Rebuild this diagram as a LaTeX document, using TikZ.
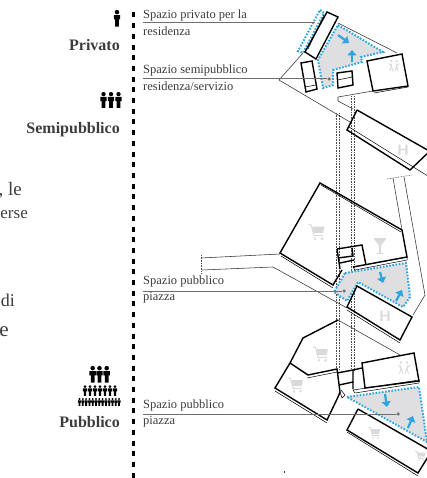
\documentclass[tikz,border=0pt]{standalone}
\usepackage{fontspec}
\setmainfont{Liberation Serif}
\usetikzlibrary{arrows.meta}
\definecolor{zoneblue}{HTML}{2BA6DE}
\definecolor{zonefill}{HTML}{DFDFE2}
\definecolor{icongrey}{HTML}{DADADA}
\definecolor{txt}{HTML}{3C3C3C}
\definecolor{leader}{HTML}{6E6E6E}
\tikzset{
  lbl/.style={font=\fontsize{12.5}{13}\selectfont,text=txt,inner sep=0pt,anchor=west},
  lvl/.style={font=\fontsize{16}{17}\selectfont\bfseries,text=txt,inner sep=0pt,anchor=east},
  frag/.style={font=\fontsize{19}{20}\selectfont,text=txt,inner sep=0pt,anchor=east},
  wall/.style={line width=1.4pt,black,line join=miter},
  wallthin/.style={line width=.5pt,black},
  site/.style={line width=.55pt,black!80},
  zone/.style={draw=zoneblue,fill=zonefill,line width=2pt,dash pattern=on 1.6pt off 1.6pt},
  zoneline/.style={draw=zoneblue,line width=2pt,dash pattern=on 1.6pt off 1.6pt},
  flow/.style={draw=zoneblue,line width=2.2pt,-{Triangle[length=5.5pt,width=9pt]}},
  shaft/.style={line width=.55pt,black!70,dash pattern=on .8pt off .8pt},
  lead/.style={line width=1pt,leader},
  ldot/.style={circle,fill=leader,inner sep=0pt,minimum size=3.5pt},
  hmark/.style={font=\fontsize{15}{16}\selectfont\sffamily\bfseries,text=icongrey,inner sep=0pt},
  pics/person/.style={code={
    \fill[black] (0,-.72) circle (.24);
    \fill[black] (-.34,-.42) -- (.34,-.42) -- (.34,.05) -- (.2,.05) -- (.2,.8) -- (-.2,.8) -- (-.2,.05) -- (-.34,.05) -- cycle;}},
  pics/cart/.style={code={
    \draw[icongrey,line width=1pt] (-.55,-.55) -- (-.35,-.5) -- (-.15,.25) -- (.5,.25);
    \fill[icongrey] (-.28,-.38) -- (.62,-.38) -- (.5,.08) -- (-.16,.08) -- cycle;
    \fill[icongrey] (-.08,.48) circle (.1) (.42,.48) circle (.1);}},
  pics/glass/.style={code={
    \fill[icongrey] (-.5,-.6) -- (.5,-.6) -- (.06,0) -- (.06,.5) -- (.35,.6) -- (-.35,.6) -- (-.06,.5) -- (-.06,0) -- cycle;}},
  pics/walkers/.style={code={
    \draw[icongrey,line width=.9pt] (-.45,.6) -- (-.3,0) -- (-.6,-.3) (-.3,0) -- (-.1,.6) (-.3,-.3) -- (-.3,0);
    \draw[icongrey,line width=.9pt] (.45,.6) -- (.3,0) -- (.6,-.3) (.3,0) -- (.1,.6) (.3,-.3) -- (.3,0);
    \fill[icongrey] (-.3,-.55) circle (.14) (.3,-.55) circle (.14);}}
}
\begin{document}
\begin{tikzpicture}[x=1pt,y=-1pt]
\useasboundingbox (0,0) rectangle (427,478);
\clip (0,0) rectangle (427,478);
% axis
\coordinate (axT) at (133.5,12.5);
\coordinate (axB) at (133.5,478);
\draw[line width=3pt,black,dash pattern=on 5pt off 5.7pt] (axT) -- (axB);
% text fragments at the left
\node[frag] (f1) at (22,190) {, le};
\node[frag,font=\fontsize{17}{18}\selectfont] (f2) at (28,215) {erse};
\node[frag,font=\fontsize{18}{19}\selectfont] (f3) at (15,300) {di};
\node[frag,font=\fontsize{21}{22}\selectfont] (f4) at (9,332) {e};
% levels
\node[lvl] (lp) at (120,45) {Privato};
\node[lvl] (ls) at (120,130) {Semipubblico};
\node[lvl] (lu) at (120,422) {Pubblico};
% person icons
\pic[scale=9.5] at (117,19) {person};
\foreach \x in {103.5,111,118.5} \pic[scale=9] at (\x,100.6) {person};
\foreach \x in {92.7,99.5,106.7} \pic[scale=9.5] at (\x,375) {person};
\foreach \x in {85,90,95,100,105,110,115} \pic[scale=6.2] at (\x,391) {person};
\foreach \x in {79.5,82.8,86.1,89.4,92.7,96,99.3,102.6,105.9,109.2,112.5,115.8,119} \pic[scale=4.5] at (\x,402.3) {person};
% labels
\node[lbl] (a1) at (143,15) {Spazio privato per la};
\node[lbl] (a2) at (143,31) {residenza};
\node[lbl] (b1) at (143,70) {Spazio semipubblico};
\node[lbl] (b2) at (143,86) {residenza/servizio};
\node[lbl] (c1) at (143,281) {Spazio pubblico};
\node[lbl] (c2) at (143,298) {piazza};
\node[lbl] (d1) at (143,405) {Spazio pubblico};
\node[lbl] (d2) at (143,422) {piazza};
% service shafts
\foreach \x in {336,339} \draw[shaft] (\x,113) -- (\x,370);
\foreach \x in {351,354} \draw[shaft] (\x,96) -- (\x,370);
% site lines
\draw[site] (338,23) -- (397,53);
\draw[site] (303,53) -- (279,80) -- (350,122);
\draw[site] (373,91) -- (338,97) -- (338,101) -- (353,109);
\draw[site] (201,258) -- (280,254);
\draw[site] (202,270) -- (273,267) -- (347,308);
\draw[shaft] (201.5,255) -- (201.5,274);
\draw[site] (393,178) -- (402,230);
\draw[site] (404,177) -- (425,295) -- (413,315);
\draw[shaft] (387,179) -- (412,175);
\draw[site] (338,320) -- (400,355);
\draw[site] (284,471) -- (284,473);
% zones
\draw[zone] (338,25) -- (383,52) -- (361,57) -- (362,62) -- (333,70) -- (333,85) -- (323,88) -- (318,60) -- cycle;
\draw[zoneline] (320,10) -- (324,13) -- (303,53) -- (298,51) -- cycle;
\draw[zone] (345,273) -- (406,263) -- (410,297) -- (403,307) -- (358,282) -- (347,301) -- (334,292) -- cycle;
\draw[zone] (347,397) -- (419,387) -- (427,442) -- cycle;
% flows
\coordinate (u1) at (338,35); \coordinate (u2) at (349,43);
\coordinate (u3) at (352,62); \coordinate (u4) at (352,50);
\coordinate (m1) at (380,272); \coordinate (m2) at (383,283);
\coordinate (m3) at (396,301); \coordinate (m4) at (402,290);
\coordinate (v1) at (385,394); \coordinate (v2) at (387,407);
\coordinate (v3) at (408,428); \coordinate (v4) at (413,416);
\draw[flow] (u1) -- (u2); \draw[flow] (u3) -- (u4);
\draw[flow] (m1) -- (m2); \draw[flow] (m3) -- (m4);
\draw[flow] (v1) -- (v2); \draw[flow] (v3) -- (v4);
% top buildings
\draw[wall] (327,12) -- (338,17) -- (316,59) -- (305,52) -- cycle;
\draw[wallthin] (324,15) -- (308,49);
\draw[wall] (301,63) -- (312,61) -- (317,89) -- (306,92) -- cycle;
\draw[wallthin] (305,87) -- (316,85);
\draw[wall] (337,73) -- (352,71) -- (353,85) -- (338,88) -- cycle;
\draw[wallthin] (337.5,80) -- (352.5,77);
\draw[wall] (367,61) -- (402,54) -- (408,86) -- (373,91) -- cycle;
\draw[wallthin] (374,93) -- (408,87);
% H building top
\draw[wall] (357,110) -- (431,152);
\draw[wall] (357,110) -- (347,130) -- (410,170) -- (431,150);
\draw[wallthin] (349,127) -- (431,178);
% middle building
\draw[wall] (342,270) -- (333,285) -- (280,253) -- (320,183) -- (402,230) -- (407,257) -- (353,267);
\draw[wallthin] (281,256) -- (333,288);
\draw[wallthin] (321,185) -- (401,232);
\draw[wall] (337,249) -- (362,245) -- (366,265);
\draw[wall] (337,249) -- (340,269) (338,258) -- (353,256) -- (352,248) (340,263) -- (354,260);
\draw[wallthin] (353,267) -- (407,257) -- (407,260) -- (355,270) -- cycle;
% H building middle
\draw[wall] (357,286) -- (412,317) -- (400,340) -- (347,307) -- cycle;
\draw[wallthin] (347,310) -- (400,343);
% bottom cluster
\draw[wall] (338,320) -- (303,338) -- (290,363) -- (275,388) -- (327,420) -- (338,397) -- (340,392) -- (337,369) -- (308,375) -- (290,363);
\draw[wallthin] (275,391) -- (327,423);
\draw[wallthin] (307,378) -- (337,372);
\draw[wall] (337,373) -- (353,370) -- (353,382) -- (339,385);
\draw[wall] (353,370) -- (362,368) (353,382) -- (353,389);
\draw[wallthin] (340,392) -- (342,398) -- (345,395) -- (341,390);
\draw[wall] (362,363) -- (414,353) -- (419,381) -- (365,388) -- cycle;
\draw[wallthin] (353,390) -- (419,380) -- (419,383) -- (355,393) -- cycle;
\draw[wall] (358,409) -- (431,451);
\draw[wall] (358,409) -- (347,430) -- (418,473) -- (431,452);
\draw[wallthin] (347,432) -- (418,476);
% leaders
\coordinate (e1) at (315,23);
\node[ldot] (e2) at (329,79) {};
\node[ldot] (e3) at (344,291) {};
\node[ldot] (e4) at (398,414) {};
\coordinate (s1) at (143,23);
\coordinate (s2) at (143,79);
\coordinate (s3) at (143,291);
\coordinate (s4) at (143,414);
\draw[lead] (s1) -- (e1);
\draw[lead] (s2) -- (e2);
\draw[lead] (s3) -- (e3);
\draw[lead] (s4) -- (e4);
% faint icons
\node[hmark] (h1) at (403,150) {H};
\node[hmark] (h2) at (385,316) {H};
\pic[scale=14] at (316,232) {cart};
\pic[scale=13] at (320,354) {cart};
\pic[scale=13] at (295,385) {cart};
\pic[scale=10] at (374,433) {cart};
\pic[scale=9] at (420,456) {cart};
\pic[scale=13] at (380,246) {glass};
\pic[scale=9] at (394,66) {walkers};
\pic[scale=10] at (404,368) {walkers};
\end{tikzpicture}
\end{document}
